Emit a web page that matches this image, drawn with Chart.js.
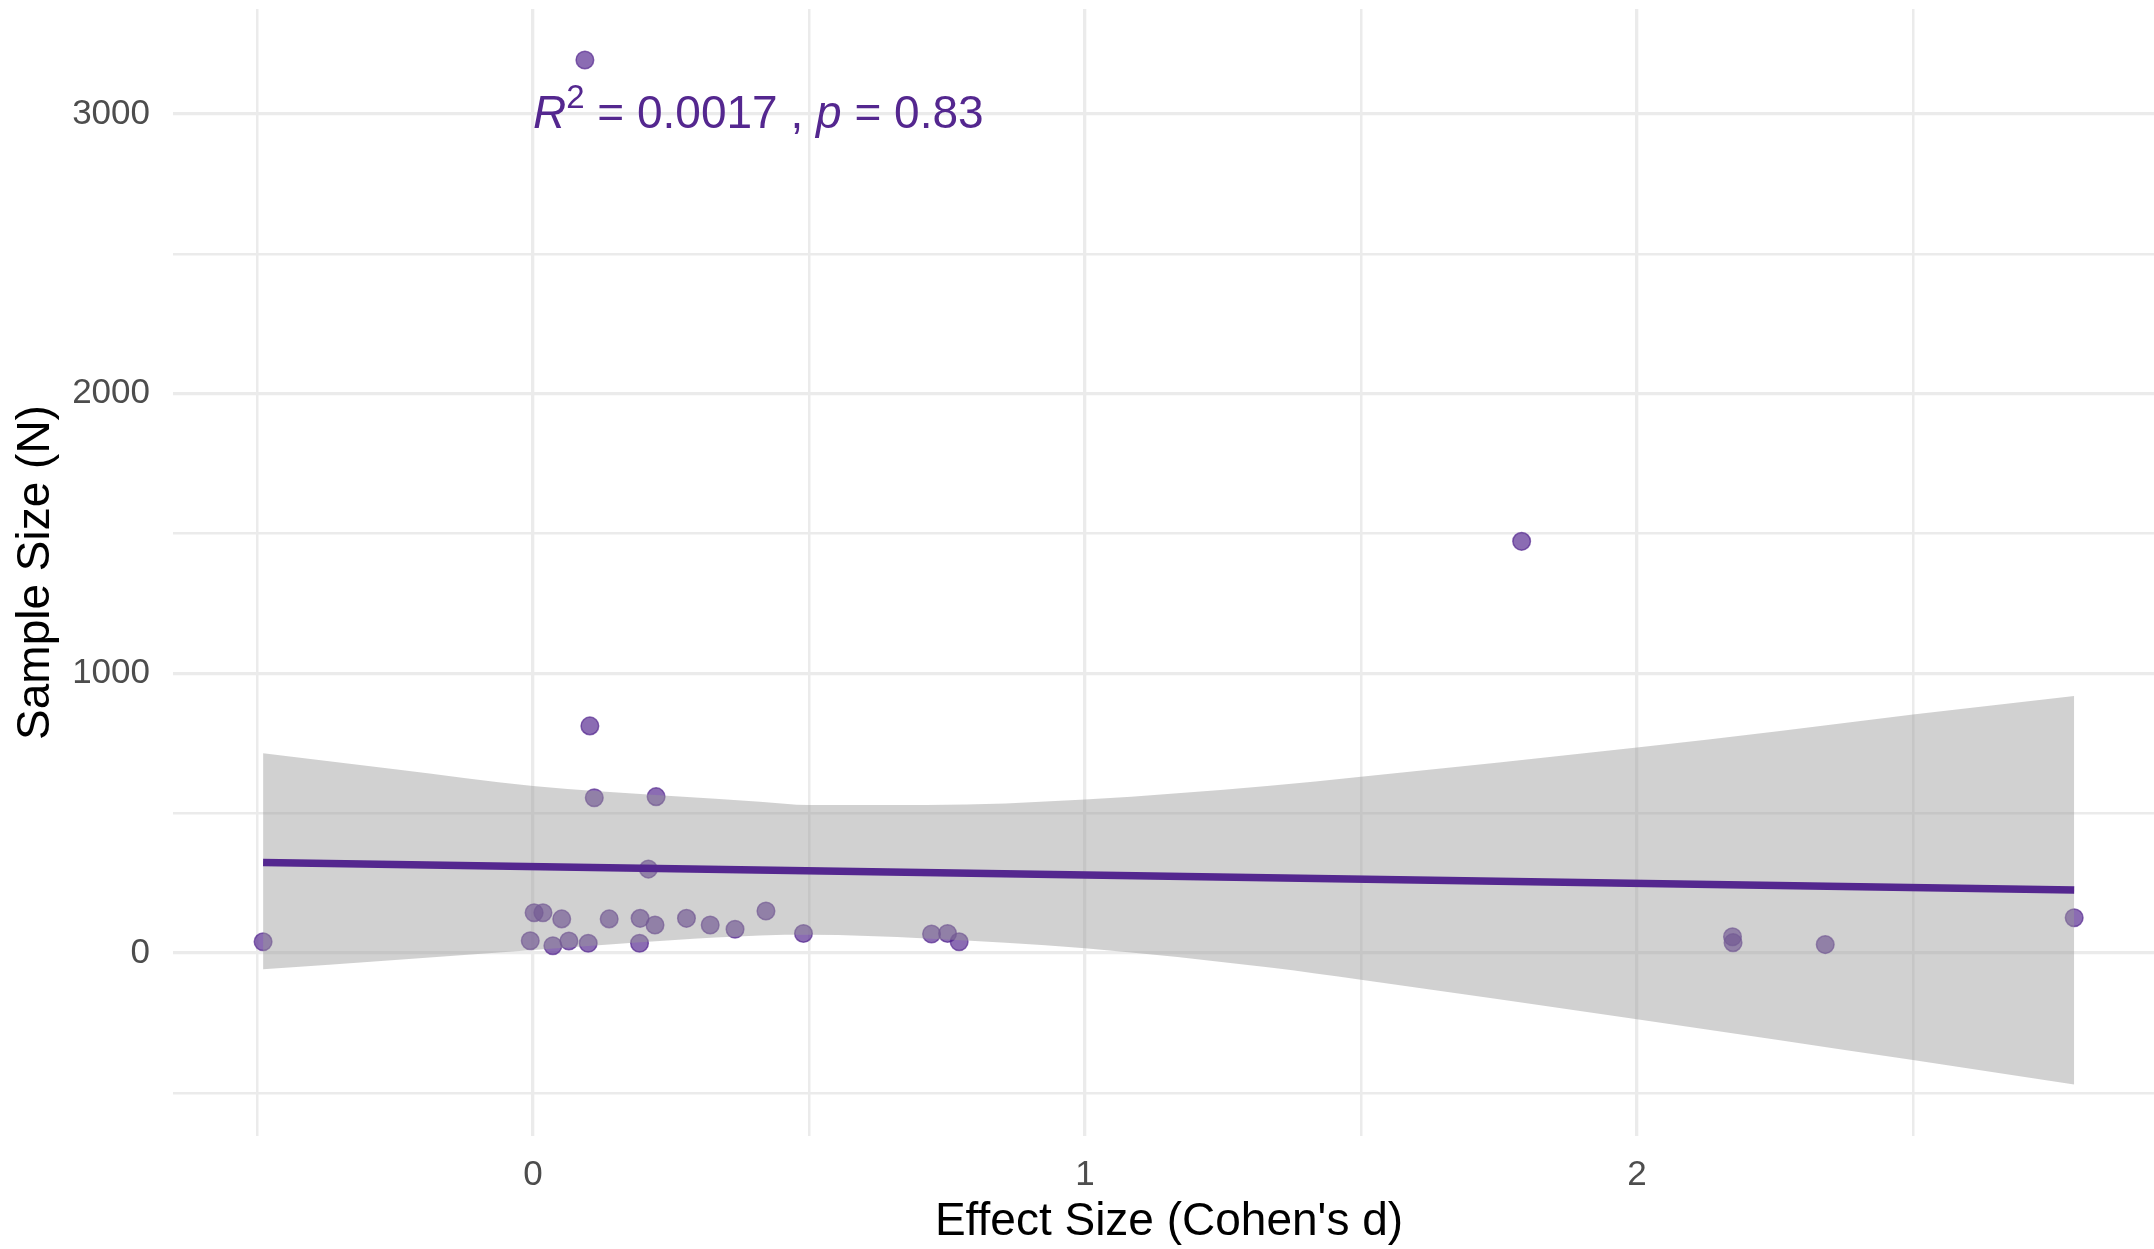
<!DOCTYPE html>
<html>
<head>
<meta charset="utf-8">
<script src="https://cdn.jsdelivr.net/npm/chart.js@4/dist/chart.umd.min.js"></script>
<style>
  html, body { margin: 0; padding: 0; background: #ffffff; overflow: hidden; }
  canvas { display: block; }
</style>
</head>
<body>
<canvas id="chart" width="2154" height="1249" style="width:2154px;height:1249px"></canvas>
<script>
// Studies: effect size (Cohen's d) and sample size (N)
const effectSize = [-0.489, 0.094, 0.103, 0.111, 0.223, 0.209, 0.002, 0.018, 0.052, 0.138,
                    0.194, 0.221, 0.278, 0.321, 0.366, 0.422, -0.005, 0.036, 0.065, 0.100,
                    0.193, 0.490, 0.722, 0.751, 0.772, 1.791, 2.173, 2.174, 2.341, 2.792];
const sampleSize = [40, 3193, 812, 555, 559, 300, 144, 144, 122, 122,
                    124, 100, 124, 100, 85, 150, 44, 26, 43, 35,
                    35, 70, 68, 70, 40, 1472, 58, 37, 30, 126];

// Linear fit and its 95% confidence band
const fitX = [-0.489, 2.792];
const fitY = [324, 225];
const bandX     = [-0.489, -0.25, 0,  0.25, 0.411, 0.5, 0.713, 1.0, 1.335, 1.5, 2.0,  2.259, 2.5,  2.792];
const bandUpper = [714,    657,   597, 561, 541,   529, 529,   549, 598,   630, 735,  794,   853,  919];
const bandLower = [-58,    -25,   11,  46,  63,    65,  52,    17,  -52,   -96, -237, -312,  -383, -470];

// Axis ticks
const xGridValues = [-0.5, 0, 0.5, 1, 1.5, 2, 2.5];
const xTickLabels = [0, 1, 2];
const yGridValues = [-500, 0, 500, 1000, 1500, 2000, 2500, 3000];
const yTickLabels = [0, 1000, 2000, 3000];

// Visible x range and the full panel range the x title is centred under
const xMin = -0.6522, xMax = 2.9366, xPanelMax = 2.9565;
const yMin = -654.3, yMax = 3375.4;

// Fit statistics label, anchored at (0, 3000)
const statAnchor = [0, 3000];
const statParts = [
  { text: 'R', italic: true },
  { text: '2', sup: true },
  { text: ' = 0.0017 , ' },
  { text: 'p', italic: true },
  { text: ' = 0.83' }
];
const xTitle = "Effect Size (Cohen's d)";

const purple = '#54278F';
const pointFill = 'rgba(84, 39, 143, 0.68)';
const FONT = "'Liberation Sans', Arial, Helvetica, sans-serif";

const toPoints = (xs, ys) => xs.map((v, i) => ({ x: v, y: ys[i] }));

const annotations = {
  id: 'annotations',
  afterDatasetsDraw(chart) {
    const { ctx, scales: { x, y } } = chart;
    const size = 46;
    const px = x.getPixelForValue(statAnchor[0]);
    const py = y.getPixelForValue(statAnchor[1]);
    const base = py + 0.3 * size;
    let cx = px;
    ctx.save();
    ctx.fillStyle = purple;
    ctx.textAlign = 'left';
    ctx.textBaseline = 'alphabetic';
    statParts.forEach(p => {
      const fs = p.sup ? 33 : size;
      ctx.font = (p.italic ? 'italic ' : '') + fs + 'px ' + FONT;
      const dy = p.sup ? -0.42 * size : 0;
      ctx.fillText(p.text, cx, base + dy);
      cx += ctx.measureText(p.text).width;
    });
    ctx.restore();
  },
  afterDraw(chart) {
    // x axis title, centred under the whole panel
    const { ctx, chartArea, scales: { x } } = chart;
    const cx = (chartArea.left + x.getPixelForValue(xPanelMax)) / 2;
    ctx.save();
    ctx.fillStyle = '#000000';
    ctx.font = '46px ' + FONT;
    ctx.textAlign = 'center';
    ctx.textBaseline = 'middle';
    ctx.fillText(xTitle, cx, chart.height - 27);
    ctx.restore();
  }
};

new Chart(document.getElementById('chart'), {
  type: 'line',
  data: {
    datasets: [
      {
        label: 'fit',
        data: toPoints(fitX, fitY),
        borderColor: purple,
        borderWidth: 7.5,
        pointRadius: 0,
        fill: false
      },
      {
        label: 'upper',
        data: toPoints(bandX, bandUpper),
        borderWidth: 0,
        borderColor: 'rgba(0,0,0,0)',
        pointRadius: 0,
        cubicInterpolationMode: 'monotone',
        backgroundColor: 'rgba(153, 153, 153, 0.45)',
        fill: '+1'
      },
      {
        label: 'lower',
        data: toPoints(bandX, bandLower),
        borderWidth: 0,
        borderColor: 'rgba(0,0,0,0)',
        pointRadius: 0,
        cubicInterpolationMode: 'monotone',
        fill: false
      },
      {
        label: 'studies',
        data: toPoints(effectSize, sampleSize),
        showLine: false,
        pointRadius: 8.8,
        pointBorderWidth: 1.5,
        pointBackgroundColor: pointFill,
        pointBorderColor: pointFill,
        fill: false
      }
    ]
  },
  options: {
    responsive: false,
    maintainAspectRatio: false,
    animation: false,
    devicePixelRatio: 1,
    layout: { autoPadding: false, padding: { top: 9, left: 0, right: 0, bottom: 0 } },
    plugins: { legend: { display: false }, tooltip: { enabled: false } },
    scales: {
      x: {
        type: 'linear',
        min: xMin,
        max: xMax,
        afterBuildTicks(scale) { scale.ticks = xGridValues.map(v => ({ value: v })); },
        afterFit(scale) { scale.height = 113; scale.paddingLeft = 0; scale.paddingRight = 0; },
        border: { display: false },
        grid: {
          drawTicks: false,
          color: '#EBEBEB',
          lineWidth: ctx => (ctx.tick && xTickLabels.includes(ctx.tick.value)) ? 3.3 : 2.5
        },
        ticks: {
          autoSkip: false,
          maxRotation: 0,
          padding: 18,
          color: '#4D4D4D',
          font: { family: FONT, size: 35 },
          callback: v => xTickLabels.includes(v) ? String(v) : ''
        },
        title: { display: false }
      },
      y: {
        type: 'linear',
        min: yMin,
        max: yMax,
        afterBuildTicks(scale) { scale.ticks = yGridValues.map(v => ({ value: v })); },
        afterFit(scale) { scale.width = 173; scale.paddingTop = 0; scale.paddingBottom = 0; },
        border: { display: false },
        grid: {
          drawTicks: false,
          color: '#EBEBEB',
          lineWidth: ctx => (ctx.tick && yTickLabels.includes(ctx.tick.value)) ? 3.3 : 2.5
        },
        ticks: {
          autoSkip: false,
          padding: 23,
          color: '#4D4D4D',
          font: { family: FONT, size: 35 },
          callback: v => yTickLabels.includes(v) ? String(v) : ''
        },
        title: {
          display: true,
          text: 'Sample Size (N)',
          color: '#000000',
          font: { family: FONT, size: 46 },
          padding: { top: 9, bottom: 0 }
        }
      }
    }
  },
  plugins: [annotations]
});
</script>
</body>
</html>
